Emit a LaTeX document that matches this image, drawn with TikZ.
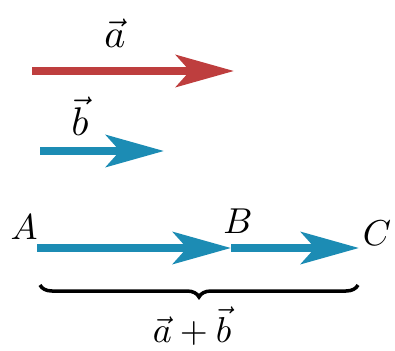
\documentclass[tikz,border=0pt]{standalone}
\usepackage{graphicx}
\usetikzlibrary{arrows.meta,decorations.pathreplacing}
\definecolor{vred}{RGB}{190,62,62}
\definecolor{vblue}{RGB}{28,140,180}
\newcommand{\bigtxt}[1]{\scalebox{3.6}{#1}}
\newcommand{\vectxt}[1]{\scalebox{4}{#1}}
\newcommand{\sumtxt}[1]{\scalebox{3.6}{#1}}
\tikzset{
  vec/.style={line width=8pt,-{Stealth[length=58pt,width=32pt,inset=14pt]}},
  lab/.style={inner sep=0pt},
}
\begin{document}
\begin{tikzpicture}[x=1pt,y=-1pt]
\useasboundingbox (0,0) rectangle (395,350);
% vector a
\coordinate (a1) at (32,71);
\coordinate (a2) at (234,71);
\draw[vec,vred] (a1) -- (a2);
\node[lab] (la) at (115,33) {\vectxt{$\vec{a}$}};
% vector b
\coordinate (b1) at (40,151);
\coordinate (b2) at (164,151);
\draw[vec,vblue] (b1) -- (b2);
\node[lab] (lb) at (80,116) {\vectxt{$\vec{b}$}};
% sum
\coordinate (A) at (37,248);
\coordinate (B) at (231,248);
\coordinate (C) at (359,248);
\node[lab] (lA) at (24,227) {\bigtxt{$A$}};
\node[lab] (lB) at (238,221) {\bigtxt{$B$}};
\node[lab] (lC) at (377,233) {\bigtxt{$C$}};
\draw[vec,vblue] (A) -- (B);
\draw[vec,vblue] (B) -- (C);
% brace
\coordinate (br1) at (40,285);
\coordinate (br2) at (358,285);
\draw[line width=3.5pt,decorate,decoration={brace,mirror,amplitude=12pt}] (br1) -- (br2);
\node[lab] (lsum) at (192,326) {\sumtxt{$\vec{a}+\vec{b}$}};
\end{tikzpicture}
\end{document}
